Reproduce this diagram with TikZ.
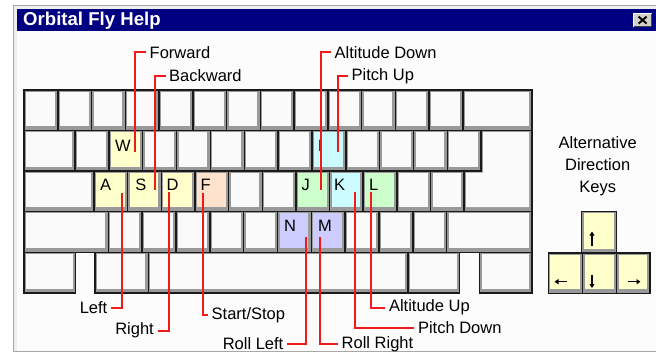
\documentclass[tikz,border=0pt]{standalone}
\usepackage{fontspec}
\setmainfont{Liberation Sans}
\usetikzlibrary{arrows.meta}
\definecolor{navy}{HTML}{000080}
\definecolor{redl}{HTML}{F01A1A}
\definecolor{kface}{HTML}{FAFAFA}
\definecolor{kshade}{HTML}{999999}
\definecolor{kline}{HTML}{1A1A1A}
\definecolor{kyel}{HTML}{FFFFCC}
\definecolor{kpeach}{HTML}{FFE2CC}
\definecolor{kgreen}{HTML}{CCFFCC}
\definecolor{kcyan}{HTML}{CCFCFF}
\definecolor{kblue}{HTML}{CCCCFF}
\definecolor{frameg}{HTML}{A8A8A8}
\definecolor{framel}{HTML}{EEEEEE}
\definecolor{bgc}{HTML}{FCFCFC}
\definecolor{btn}{HTML}{D4D0C8}
\newcommand\labfont{\fontsize{16.5}{19}\selectfont}
\newcommand\kbkey[5]{%
  \fill[kshade] (#1,#2) rectangle (#3,#4);
  \fill[#5] ({#1+2},{#2+1.5}) rectangle ({#3-3},{#4-4.5});
  \draw[keyline] (#1,#2) rectangle (#3,#4);
}
\tikzset{
  keyline/.style={draw=kline, line width=1.5pt},
  rl/.style={draw=redl, line width=2pt},
  lab/.style={font=\labfont, inner xsep=3.5pt, inner ysep=0pt, text=black},
  keylet/.style={font=\labfont, inner sep=0pt, anchor=base west, text=black},
  altlab/.style={font=\labfont, inner sep=0pt, anchor=base, text=black},
  arr/.style={line width=1.4pt, -{Triangle[length=4pt,width=5pt]}}
}
\begin{document}
\begin{tikzpicture}[x=1pt,y=-1pt]
\useasboundingbox (0,0) rectangle (656,361);
\fill[white] (0,0) rectangle (656,361);
% window frame
\fill[frameg] (12.8,4.8) rectangle (660,352.2);
\fill[framel] (14.3,6.3) rectangle (660,350.7);
\fill[bgc] (16.8,31) rectangle (660,350.7);
\fill[navy] (16.8,9) rectangle (660,31);
\node[font=\fontsize{18.6}{20}\selectfont\bfseries, text=white, inner sep=0pt, anchor=base west] (title) at (23,26) {Orbital Fly Help};
% close button
\fill[white] (632.8,13.2) rectangle (652,27.4);
\fill[black!75] (633.8,14.2) rectangle (652,27.4);
\fill[btn] (633.8,14.2) rectangle (650.8,26.2);
\draw[line width=1.9pt] (638.6,16.6) -- (646.6,23.6) (646.6,16.6) -- (638.6,23.6);

% row 1
\foreach \i in {0,...,12} {\kbkey{24+\i*33.75}{90}{57.75+\i*33.75}{130.5}{kface}}
\kbkey{462.75}{90}{532}{130.5}{kface}
% row 2
\kbkey{24}{130.5}{75}{171}{kface}
\foreach \i in {0,...,11} {\kbkey{75+\i*33.85}{130.5}{108.85+\i*33.85}{171}{kface}}
% enter
\fill[kshade] (481.2,130.5) -- (532,130.5) -- (532,211.5) -- (464.15,211.5) -- (464.15,171) -- (481.2,171) -- cycle;
\fill[kface] (483.2,132) -- (529,132) -- (529,207) -- (466.15,207) -- (466.15,172.5) -- (483.2,172.5) -- cycle;
\draw[keyline] (481.2,130.5) -- (532,130.5) -- (532,211.5) -- (464.15,211.5) -- (464.15,171) -- (481.2,171) -- cycle;
% row 3
\kbkey{24}{171}{94}{211.5}{kface}
\foreach \i in {0,...,10} {\kbkey{94+\i*33.65}{171}{127.65+\i*33.65}{211.5}{kface}}
% row 4
\kbkey{24}{211.5}{108.3}{252.5}{kface}
\foreach \i in {0,...,9} {\kbkey{108.3+\i*33.84}{211.5}{142.14+\i*33.84}{252.5}{kface}}
\kbkey{446.7}{211.5}{532}{252.5}{kface}
% row 5
\kbkey{24}{252.5}{75.5}{293}{kface}
\kbkey{95}{252.5}{148.3}{293}{kface}
\kbkey{148.3}{252.5}{408}{293}{kface}
\kbkey{408}{252.5}{459.5}{293}{kface}
\kbkey{479.5}{252.5}{532}{293}{kface}

% coloured keys
\kbkey{108.85}{130.5}{142.7}{171}{kyel}
\kbkey{311.95}{130.5}{345.8}{171}{kcyan}
\kbkey{94}{171}{127.65}{211.5}{kyel}
\kbkey{127.65}{171}{161.3}{211.5}{kyel}
\kbkey{161.3}{171}{194.95}{211.5}{kyel}
\kbkey{194.95}{171}{228.6}{211.5}{kpeach}
\kbkey{295.9}{171}{329.55}{211.5}{kgreen}
\kbkey{329.55}{171}{363.2}{211.5}{kcyan}
\kbkey{363.2}{171}{396.85}{211.5}{kgreen}
\kbkey{277.5}{211.5}{311.34}{252.5}{kblue}
\kbkey{311.34}{211.5}{345.18}{252.5}{kblue}

% key letters
\node[keylet] (kW) at (115,151.7) {W};
\node[keylet] (kI) at (317.6,151.7) {I};
\node[keylet] (kA) at (100,190) {A};
\node[keylet] (kS) at (135.2,190) {S};
\node[keylet] (kD) at (166.5,190) {D};
\node[keylet] (kF) at (200.5,190) {F};
\node[keylet] (kJ) at (301.3,190) {J};
\node[keylet] (kK) at (333.8,190) {K};
\node[keylet] (kL) at (368.8,190) {L};
\node[keylet] (kN) at (283.8,231.7) {N};
\node[keylet] (kM) at (318,231.7) {M};

% arrow keys
\kbkey{581.7}{211.7}{616.7}{253}{kyel}
\kbkey{548.3}{253}{582.7}{293.3}{kyel}
\kbkey{582.7}{253}{616.7}{293.3}{kyel}
\kbkey{616.7}{253}{650}{293.3}{kyel}
\draw[arr] (592,245.5) -- (592,231.5);
\draw[arr] (592,274.5) -- (592,288);
\draw[arr] (567,281.7) -- (554.5,281.7);
\draw[arr] (628,281.7) -- (640.5,281.7);

\node[altlab] (alt1) at (597.7,148.3) {Alternative};
\node[altlab] (alt2) at (597.7,170.7) {Direction};
\node[altlab] (alt3) at (597.7,192.7) {Keys};

% labels
\node[lab, anchor=west] (lFwd) at (146,52.3) {Forward};
\node[lab, anchor=west] (lBack) at (165.5,76) {Backward};
\node[lab, anchor=west] (lAltD) at (331,52.3) {Altitude Down};
\node[lab, anchor=west] (lPitU) at (348,76.3) {Pitch Up};
\node[lab, anchor=east] (lLeft) at (111,307.6) {Left};
\node[lab, anchor=east] (lRight) at (157.5,330.6) {Right};
\node[lab, anchor=west] (lStart) at (208,315) {Start/Stop};
\node[lab, anchor=east] (lRollL) at (287,344) {Roll Left};
\node[lab, anchor=west] (lRollR) at (338,344) {Roll Right};
\node[lab, anchor=west] (lPitD) at (414.3,327.5) {Pitch Down};
\node[lab, anchor=west] (lAltU) at (385.3,307.6) {Altitude Up};

% connector ends on keys
\coordinate (tW) at (135,152);
\coordinate (tS) at (154.5,190);
\coordinate (tJ) at (321,190);
\coordinate (tI) at (337.5,152);
\coordinate (tA) at (121.5,193);
\coordinate (tD) at (169,192);
\coordinate (tF) at (202.5,193);
\coordinate (tN) at (306,237);
\coordinate (tM) at (320,237);
\coordinate (tK) at (355,192);
\coordinate (tL) at (371,192);

\draw[rl] (lFwd.west) -| (tW);
\draw[rl] (lBack.west) -| (tS);
\draw[rl] (lAltD.west) -| (tJ);
\draw[rl] (lPitU.west) -| (tI);
\draw[rl] (tA) |- (lLeft.east);
\draw[rl] (tD) |- (lRight.east);
\draw[rl] (tF) |- (lStart.west);
\draw[rl] (tN) |- (lRollL.east);
\draw[rl] (tM) |- (lRollR.west);
\draw[rl] (tK) |- (lPitD.west);
\draw[rl] (tL) |- (lAltU.west);
\end{tikzpicture}
\end{document}
